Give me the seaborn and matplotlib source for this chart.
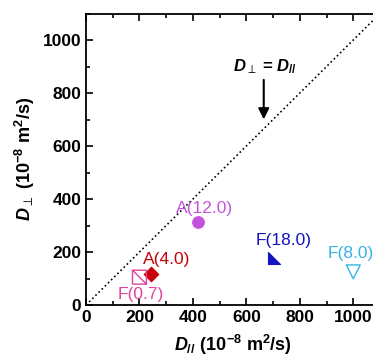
import matplotlib
matplotlib.use('Agg')
import matplotlib.pyplot as plt
from matplotlib.path import Path
from matplotlib.ticker import MultipleLocator
import seaborn as sns
import pandas as pd

# data
labels = ['A(12.0)', 'A(4.0)', 'F(0.7)', 'F(18.0)', 'F(8.0)']
d_par = [420, 245, 200, 705, 1000]
d_perp = [312, 118, 105, 177, 125]
colors = ['#c453dc', '#c8000a', '#e0449c', '#1414c0', '#35b4e6']
label_x = [338, 212, 118, 635, 905]
label_y = [365, 172, 38, 245, 196]

square_diag = Path([(-1, -1), (1, -1), (1, 1), (-1, 1), (-1, -1), (-1, 1), (1, -1)],
                   [Path.MOVETO, Path.LINETO, Path.LINETO, Path.LINETO, Path.CLOSEPOLY,
                    Path.MOVETO, Path.LINETO])
right_tri = Path([(-1, 1), (-1, -1), (1, -1), (-1, 1)],
                 [Path.MOVETO, Path.LINETO, Path.LINETO, Path.CLOSEPOLY])
markers = ['o', 'D', square_diag, right_tri, 'v']
sizes = [70, 55, 100, 75, 100]
filled = [True, True, False, True, False]

sns.set_style('ticks', {'axes.edgecolor': 'black', 'text.color': 'black',
                        'axes.labelcolor': 'black', 'xtick.color': 'black',
                        'ytick.color': 'black'})
plt.rcParams['font.family'] = ['Liberation Sans', 'DejaVu Sans']
plt.rcParams['mathtext.fontset'] = 'custom'
plt.rcParams['mathtext.rm'] = 'Liberation Sans:bold'
plt.rcParams['mathtext.it'] = 'Liberation Sans:italic:bold'
plt.rcParams['mathtext.bf'] = 'Liberation Sans:bold'

fig = plt.figure(figsize=(3.73, 3.61), dpi=100)
ax = fig.add_axes([86 / 373, 56 / 361, 294 / 373, 291.5 / 361])

df = pd.DataFrame({'x': d_par, 'y': d_perp, 'label': labels})

ax.plot([0, 1100], [0, 1100], ls=':', color='black', lw=1.2)

for i in range(len(labels)):
    sub = df.iloc[[i]]
    if filled[i]:
        sns.scatterplot(data=sub, x='x', y='y', marker=markers[i], s=sizes[i],
                        color=colors[i], edgecolor=colors[i], linewidth=0.8, ax=ax, zorder=3)
    else:
        sns.scatterplot(data=sub, x='x', y='y', marker=markers[i], s=sizes[i],
                        facecolor='none', edgecolor=colors[i], linewidth=1.0, ax=ax, zorder=3)
    ax.text(label_x[i], label_y[i], labels[i], color=colors[i], fontsize=12.5,
            ha='left', va='center')

ax.annotate('', xy=(665, 690), xytext=(665, 860),
            arrowprops=dict(arrowstyle='-|>', color='black', lw=1.5, mutation_scale=16))
ax.text(670, 898, r'$D_{\perp}$ = $D_{//}$', fontsize=12, ha='center', va='center',
        fontweight='bold')

ax.set_xlim(0, 1100)
ax.set_ylim(0, 1100)
ax.xaxis.set_major_locator(MultipleLocator(200))
ax.xaxis.set_minor_locator(MultipleLocator(100))
ax.yaxis.set_major_locator(MultipleLocator(200))
ax.yaxis.set_minor_locator(MultipleLocator(100))
ax.tick_params(which='both', direction='in', top=True, right=True, width=1.2, colors='black')
ax.tick_params(which='major', length=5, labelsize=12.5)
ax.tick_params(which='minor', length=3)
for lab in ax.get_xticklabels() + ax.get_yticklabels():
    lab.set_fontweight('bold')
for sp in ax.spines.values():
    sp.set_linewidth(1.3)
    sp.set_color('black')

ax.set_xlabel(r'$D_{//}\ \mathrm{(10^{-8}\ m^{2}/s)}$', fontsize=13, labelpad=6, color='black')
ax.set_ylabel(r'$D_{\perp}\ \mathrm{(10^{-8}\ m^{2}/s)}$', fontsize=13, labelpad=4, color='black')

fig.savefig('out.png', dpi=100)
